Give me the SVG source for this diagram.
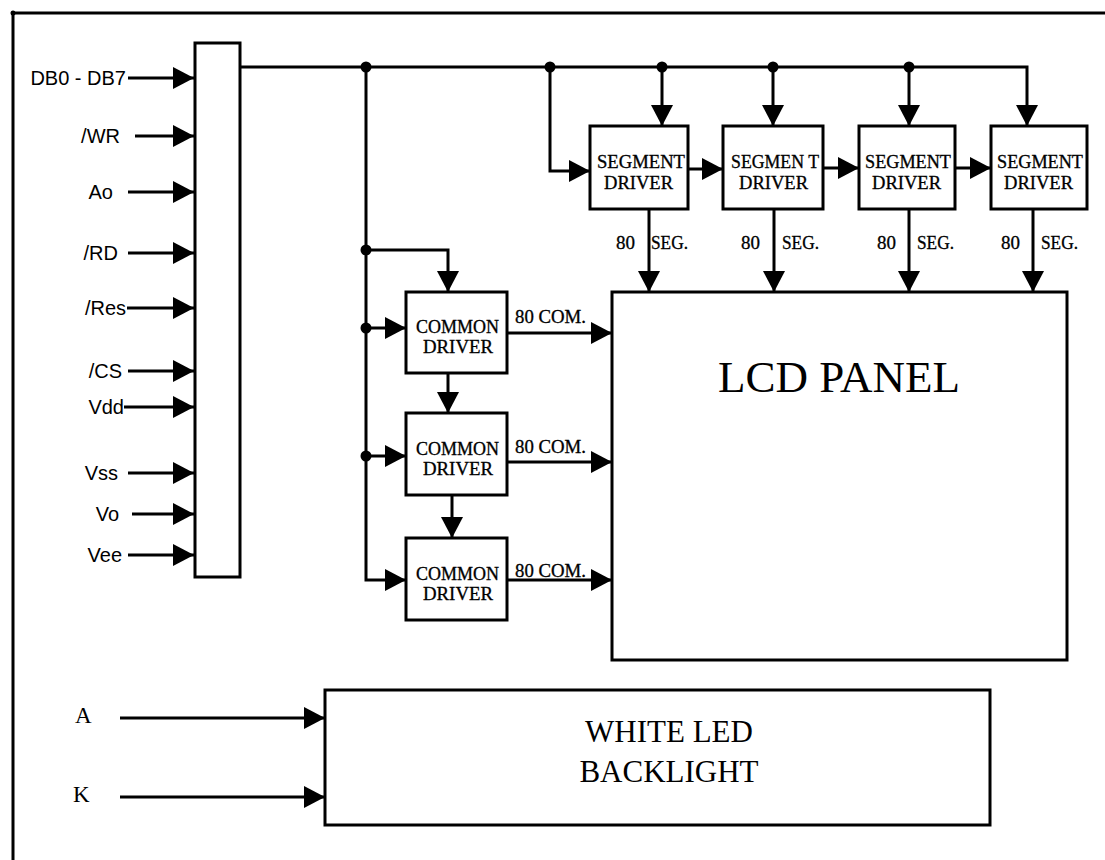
<svg xmlns="http://www.w3.org/2000/svg" width="1105" height="860" viewBox="0 0 1105 860">
<style>
.ln{fill:none;stroke:#000;stroke-width:3}
.ar{fill:none;stroke:#000;stroke-width:3;marker-end:url(#ah)}
.box{fill:#fff;stroke:#000;stroke-width:3}
.sans{font-family:"Liberation Sans",Arial,sans-serif;font-size:20px;fill:#000}
.mono{font-family:"Liberation Serif","Times New Roman",serif;font-size:18px;fill:#000;stroke:#000;stroke-width:0.3}
.serif{font-family:"Liberation Serif","Times New Roman",serif;fill:#000}
</style>
<defs>
<marker id="ah" markerUnits="userSpaceOnUse" markerWidth="22" markerHeight="22" refX="21" refY="11" orient="auto">
<path d="M0,0 L21,11 L0,22 Z" fill="#000"/>
</marker>
</defs>
<rect width="1105" height="860" fill="#fff"/>
<g id="frame">
<path class="ln" d="M13,860 L13,13 L1105,13"/>
<circle cx="13" cy="13" r="2.5"/>
</g>
<g id="connectors">
<path class="ar" d="M128,78 H194"/>
<path class="ar" d="M135,136 H194"/>
<path class="ar" d="M128,192 H194"/>
<path class="ar" d="M128,253 H194"/>
<path class="ar" d="M127,308 H194"/>
<path class="ar" d="M128,371 H194"/>
<path class="ar" d="M124,407 H194"/>
<path class="ar" d="M128,473 H194"/>
<path class="ar" d="M132,514 H194"/>
<path class="ar" d="M128,555 H194"/>
<path class="ar" d="M240,67 H1027 V126"/>
<path class="ar" d="M550,67 V171 H590"/>
<path class="ar" d="M662,67 V126"/>
<path class="ar" d="M773,67 V126"/>
<path class="ar" d="M909,67 V126"/>
<circle cx="366" cy="67" r="5.5"/>
<circle cx="550" cy="67" r="5.5"/>
<circle cx="662" cy="67" r="5.5"/>
<circle cx="773" cy="67" r="5.5"/>
<circle cx="909" cy="67" r="5.5"/>
<path class="ar" d="M688,169 H723"/>
<path class="ar" d="M823,168 H859"/>
<path class="ar" d="M955,168 H991"/>
<path class="ar" d="M649,209 V292"/>
<path class="ar" d="M774,209 V292"/>
<path class="ar" d="M909,209 V292"/>
<path class="ar" d="M1033,209 V292"/>
<path class="ar" d="M366,67 V580 H406"/>
<path class="ar" d="M366,250 H448 V292"/>
<path class="ar" d="M366,328 H406"/>
<path class="ar" d="M366,456 H406"/>
<circle cx="366" cy="250" r="5.5"/>
<circle cx="366" cy="328" r="5.5"/>
<circle cx="366" cy="456" r="5.5"/>
<path class="ar" d="M448,373 V413"/>
<path class="ar" d="M452,495 V538"/>
<path class="ar" d="M507,333 H612"/>
<path class="ar" d="M507,462 H612"/>
<path class="ar" d="M507,580 H612"/>
<path class="ar" d="M120,718 H325"/>
<path class="ar" d="M120,797 H325"/>
</g>
<g id="input-labels">
<text class="sans" x="126" y="85" text-anchor="end">DB0 - DB7</text>
<text class="sans" x="120" y="143" text-anchor="end">/WR</text>
<text class="sans" x="113" y="199" text-anchor="end">Ao</text>
<text class="sans" x="118" y="260" text-anchor="end">/RD</text>
<text class="sans" x="126" y="315" text-anchor="end">/Res</text>
<text class="sans" x="122" y="378" text-anchor="end">/CS</text>
<text class="sans" x="124" y="414" text-anchor="end">Vdd</text>
<text class="sans" x="118" y="480" text-anchor="end">Vss</text>
<text class="sans" x="119" y="521" text-anchor="end">Vo</text>
<text class="sans" x="122" y="562" text-anchor="end">Vee</text>
</g>
<g id="controller">
<rect class="box" x="195" y="43" width="45" height="534"/>
</g>
<g id="seg1">
<rect class="box" x="590" y="126" width="98" height="83"/>
<text class="mono" x="597" y="168" textLength="88" lengthAdjust="spacingAndGlyphs">SEGMENT</text>
<text class="mono" x="604" y="189" textLength="69" lengthAdjust="spacingAndGlyphs">DRIVER</text>
</g>
<g id="seg2">
<rect class="box" x="723" y="126" width="100" height="83"/>
<text class="mono" x="731" y="168" textLength="88" lengthAdjust="spacingAndGlyphs">SEGMEN T</text>
<text class="mono" x="739" y="189" textLength="69" lengthAdjust="spacingAndGlyphs">DRIVER</text>
</g>
<g id="seg3">
<rect class="box" x="859" y="126" width="96" height="83"/>
<text class="mono" x="865" y="168" textLength="86" lengthAdjust="spacingAndGlyphs">SEGMENT</text>
<text class="mono" x="872" y="189" textLength="69" lengthAdjust="spacingAndGlyphs">DRIVER</text>
</g>
<g id="seg4">
<rect class="box" x="991" y="126" width="96" height="83"/>
<text class="mono" x="997" y="168" textLength="86" lengthAdjust="spacingAndGlyphs">SEGMENT</text>
<text class="mono" x="1004" y="189" textLength="69" lengthAdjust="spacingAndGlyphs">DRIVER</text>
</g>
<g id="seg-labels">
<text class="mono" x="616" y="249" textLength="19" lengthAdjust="spacingAndGlyphs">80</text>
<text class="mono" x="651" y="249" textLength="37" lengthAdjust="spacingAndGlyphs">SEG.</text>
<text class="mono" x="741" y="249" textLength="19" lengthAdjust="spacingAndGlyphs">80</text>
<text class="mono" x="782" y="249" textLength="37" lengthAdjust="spacingAndGlyphs">SEG.</text>
<text class="mono" x="877" y="249" textLength="19" lengthAdjust="spacingAndGlyphs">80</text>
<text class="mono" x="917" y="249" textLength="37" lengthAdjust="spacingAndGlyphs">SEG.</text>
<text class="mono" x="1001" y="249" textLength="19" lengthAdjust="spacingAndGlyphs">80</text>
<text class="mono" x="1041" y="249" textLength="37" lengthAdjust="spacingAndGlyphs">SEG.</text>
</g>
<g id="com1">
<rect class="box" x="406" y="292" width="101" height="81"/>
<text class="mono" x="416" y="333" textLength="83" lengthAdjust="spacingAndGlyphs">COMMON</text>
<text class="mono" x="423" y="353" textLength="70" lengthAdjust="spacingAndGlyphs">DRIVER</text>
</g>
<g id="com2">
<rect class="box" x="406" y="413" width="101" height="82"/>
<text class="mono" x="416" y="455" textLength="83" lengthAdjust="spacingAndGlyphs">COMMON</text>
<text class="mono" x="423" y="475" textLength="70" lengthAdjust="spacingAndGlyphs">DRIVER</text>
</g>
<g id="com3">
<rect class="box" x="406" y="538" width="101" height="82"/>
<text class="mono" x="416" y="580" textLength="83" lengthAdjust="spacingAndGlyphs">COMMON</text>
<text class="mono" x="423" y="600" textLength="70" lengthAdjust="spacingAndGlyphs">DRIVER</text>
</g>
<g id="com-labels">
<text class="mono" x="515" y="323" textLength="71" lengthAdjust="spacingAndGlyphs">80 COM.</text>
<text class="mono" x="515" y="453" textLength="71" lengthAdjust="spacingAndGlyphs">80 COM.</text>
<text class="mono" x="515" y="577" textLength="71" lengthAdjust="spacingAndGlyphs">80 COM.</text>
</g>
<g id="lcd">
<rect class="box" x="612" y="292" width="455" height="368"/>
<text class="serif" x="839" y="392" font-size="45" text-anchor="middle">LCD PANEL</text>
</g>
<g id="backlight">
<rect class="box" x="325" y="690" width="665" height="135"/>
<text class="serif" x="669" y="742" font-size="31" text-anchor="middle">WHITE LED</text>
<text class="serif" x="669" y="782" font-size="31" text-anchor="middle">BACKLIGHT</text>
</g>
<g id="backlight-labels">
<text class="serif" x="75" y="723" font-size="23">A</text>
<text class="serif" x="73" y="802" font-size="23">K</text>
</g>
</svg>
